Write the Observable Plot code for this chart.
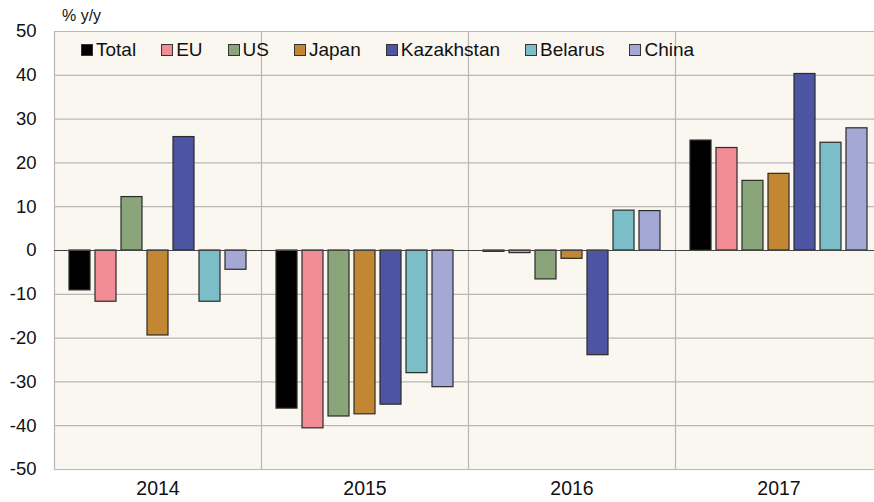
<!DOCTYPE html>
<html>
<head>
<meta charset="utf-8">
<script src="https://cdn.jsdelivr.net/npm/d3@7"></script>
<script src="https://cdn.jsdelivr.net/npm/@observablehq/plot@0.6"></script>
<style>
  html, body { margin: 0; padding: 0; background: #ffffff; overflow: hidden; }
  #wrap { position: relative; width: 874px; height: 502px; overflow: hidden; font-family: "Liberation Sans", Arial, sans-serif; }
  #chart svg { max-width: none !important; }
  #unit { position: absolute; left: 62px; top: 7px; font-size: 16px; color: #111; }
  #legend { position: absolute; left: 81px; top: 39px; display: flex; gap: 25px; font-size: 19px; color: #111; }
  .item { display: flex; align-items: center; gap: 3px; }
  .sw { width: 10px; height: 10px; border: 1px solid #333; display: inline-block; }
</style>
</head>
<body>
<div id="wrap">
  <div id="chart"></div>
  <div id="unit">% y/y</div>
  <div id="legend"></div>
</div>
<script>
const years = ["2014", "2015", "2016", "2017"];
const series = ["Total", "EU", "US", "Japan", "Kazakhstan", "Belarus", "China"];
const colors = ["#000000", "#f28c95", "#8ba57a", "#c38632", "#4d55a3", "#7cbec8", "#a4a8d5"];
const yTicks = [-50, -40, -30, -20, -10, 0, 10, 20, 30, 40, 50];

const total      = [-9.1, -36.1, -0.3, 25.1];
const eu         = [-11.7, -40.6, -0.6, 23.4];
const us         = [12.2, -37.9, -6.6, 15.9];
const japan      = [-19.4, -37.4, -1.9, 17.5];
const kazakhstan = [25.9, -35.2, -23.9, 40.3];
const belarus    = [-11.7, -28.0, 9.1, 24.6];
const china      = [-4.4, -31.2, 9.0, 27.9];

const valuesBySeries = [total, eu, us, japan, kazakhstan, belarus, china];
const data = [];
years.forEach((yr, i) => {
  series.forEach((s, j) => data.push({year: yr, series: s, value: valuesBySeries[j][i]}));
});

const chart = Plot.plot({
  width: 890,
  height: 502,
  marginTop: 31,
  marginBottom: 33,
  marginLeft: 53,
  marginRight: 8,
  style: {fontSize: "18.5px", fontFamily: "'Liberation Sans', Arial, sans-serif", color: "#111", background: "transparent", maxWidth: "none"},
  fx: {domain: years, padding: 0, label: null},
  x: {domain: series, paddingInner: 0.2, paddingOuter: 0.58, axis: null},
  y: {domain: [-50, 50], ticks: yTicks, tickSize: 0, tickPadding: 18, label: null, tickFormat: d => String(d)},
  color: {domain: series, range: colors},
  marks: [
    Plot.frame({fill: "#faf6f0", stroke: "none"}),
    Plot.gridY(yTicks, {stroke: "#b8b8b8", strokeOpacity: 1, strokeWidth: 1.2}),
    Plot.frame({anchor: "left", stroke: "#b8b8b8", strokeWidth: 1.2}),
    Plot.barY(data, {fx: "year", x: "series", y: "value", fill: "series", stroke: "#2a2a2a", strokeWidth: 1.2}),
    Plot.ruleY([0], {stroke: "#444", strokeWidth: 1.2}),
    Plot.axisFx({anchor: "bottom", tickSize: 0, tickPadding: 12, fontSize: 19.5, label: null})
  ]
});
document.getElementById("chart").appendChild(chart);

const legend = document.getElementById("legend");
series.forEach((s, i) => {
  const it = document.createElement("div");
  it.className = "item";
  const sw = document.createElement("span");
  sw.className = "sw";
  sw.style.background = colors[i];
  const t = document.createElement("span");
  t.textContent = s;
  it.appendChild(sw);
  it.appendChild(t);
  legend.appendChild(it);
});
</script>
</body>
</html>
